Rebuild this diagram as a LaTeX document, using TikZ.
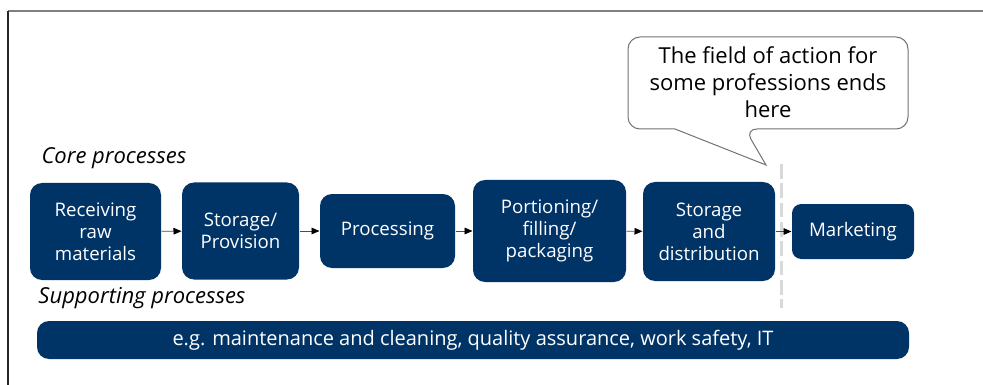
\documentclass[tikz,border=0pt]{standalone}
\usepackage{fontspec}
\setmainfont{Open Sans}
\usetikzlibrary{arrows.meta}

\definecolor{procblue}{RGB}{0,51,102}
\tikzset{every picture/.style={line width=0.75pt}}
\tikzset{
  procbox/.style={fill=procblue, text=white, rounded corners=9pt, align=center, inner sep=0pt, font=\fontsize{14}{16.5}\selectfont},
  flowarrow/.style={draw=black!70, line width=0.6pt, -{Triangle[length=6pt,width=5pt,color=black]}},
  phaselabel/.style={anchor=west, inner sep=0.75pt, font=\fontsize{16.5}{18}\selectfont\itshape}
}

\begin{document}
\begin{tikzpicture}[x=0.75pt,y=0.75pt,yscale=-1,xscale=1]
\useasboundingbox (0,0) rectangle (983,385);

%Straight Lines (frame)
\draw [color=black!50, line width=1pt] (8,11) -- (983,11) ;
\draw [color=black!85, line width=1pt] (8,11) -- (8,385) ;

%Straight Lines (dashed border)
\draw [color=black!15, line width=2.25pt, dash pattern=on 11pt off 3.5pt] (781,164) -- (781,308) ;

% Text Node
\node [phaselabel] (core) at (40,158) {Core processes};
% Text Node
\node [phaselabel] (support) at (37,298) {Supporting processes};

%Rounded Rect
\node [procbox, minimum width=98.25pt, minimum height=72.75pt] (receiving) at (95.5,231.5) {Receiving\\raw\\materials};
%Rounded Rect
\node [procbox, minimum width=87.75pt, minimum height=72.75pt] (storage) at (240.5,231) {Storage/\\Provision};
%Rounded Rect
\node [procbox, minimum width=101.25pt, minimum height=55.5pt] (processing) at (387.5,231) {Processing};
%Rounded Rect
\node [procbox, minimum width=114.75pt, minimum height=76.5pt] (portioning) at (549.5,231) {Portioning/\\filling/\\packaging};
%Rounded Rect
\node [procbox, minimum width=99pt, minimum height=74.25pt] (distribution) at (709,231.5) {Storage\\and\\distribution};
%Rounded Rect
\node [procbox, rounded corners=7pt, minimum width=91.5pt, minimum height=41.25pt] (marketing) at (853,231.5) {Marketing};
%Rounded Rect
\node [procbox, font=\fontsize{15}{18}\selectfont, minimum width=654pt, minimum height=28.5pt] (supportbar) at (473,340) {e.g. maintenance and cleaning, quality assurance, work safety, IT};

%Straight Lines
\draw [flowarrow] (receiving) -- (storage) ;
\draw [flowarrow] (storage) -- (processing) ;
\draw [flowarrow] (processing) -- (portioning) ;
\draw [flowarrow] (portioning) -- (distribution) ;
\draw [flowarrow] (distribution) -- (marketing) ;

%Shape: Callout
\draw [color=black!55, fill=white, line width=0.75pt, rounded corners=9pt] (628,37) -- (908,37) -- (908,129) -- (745,129) [sharp corners] -- (766,165) -- (675,129) [rounded corners=9pt] -- (628,129) -- cycle ;
% Text Node
\node [align=center, inner sep=0.75pt, font=\fontsize{16.5}{20.25}\selectfont] (callout) at (768,82) {The field of action for\\some professions ends\\here};

\end{tikzpicture}
\end{document}
